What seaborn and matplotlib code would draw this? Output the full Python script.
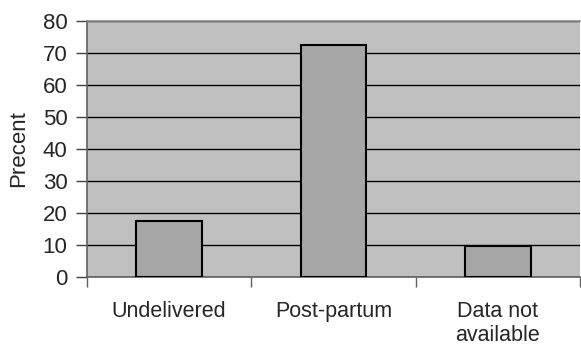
import matplotlib
matplotlib.use("Agg")
import matplotlib.pyplot as plt
import seaborn as sns
import pandas as pd

categories = ["Undelivered", "Post-partum", "Data not\navailable"]
values = [17.4, 72.3, 9.7]
yticks = [0, 10, 20, 30, 40, 50, 60, 70, 80]

sns.set_style("white")
plt.rcParams['font.family'] = ['Liberation Sans', 'DejaVu Sans']

df = pd.DataFrame({"cat": categories, "val": values})

fig = plt.figure(figsize=(5.81, 3.46), dpi=100)
ax = fig.add_axes([87/581, 1-277/346, (580-87)/581, (277-20.7)/346])
ax.set_facecolor("#C0C0C0")

sns.barplot(data=df, x="cat", y="val", ax=ax, color="#A6A6A6",
            saturation=1, width=0.4, edgecolor="black", linewidth=1.5, zorder=3)

ax.set_ylim(0, 80)
ax.set_xlim(-0.5, 2.5)
ax.set_yticks(yticks)
ax.set_yticklabels([str(t) for t in yticks], fontsize=16)
ax.yaxis.grid(True, color="black", linewidth=1.0, zorder=1)
ax.set_axisbelow(True)
ax.tick_params(axis="y", length=8, width=1, color="#404040", pad=6, left=True)

ax.set_xticks([0, 1, 2])
ax.set_xticklabels(categories, fontsize=15.5, linespacing=1.2)
ax.set_xticks([-0.5, 0.5, 1.5, 2.5], minor=True)
ax.tick_params(axis="x", which="major", length=0, pad=17)
ax.tick_params(axis="x", which="minor", length=7, width=1, color="#606060", bottom=True)

ax.set_xlabel("")
ax.set_ylabel("Precent", fontsize=16, labelpad=10)

for side in ["left", "bottom"]:
    ax.spines[side].set_color("#606060")
    ax.spines[side].set_linewidth(1.2)
ax.spines["top"].set_color("#909090")
ax.spines["top"].set_linewidth(1.2)
ax.spines["right"].set_visible(False)

fig.savefig("out.png", dpi=100)
